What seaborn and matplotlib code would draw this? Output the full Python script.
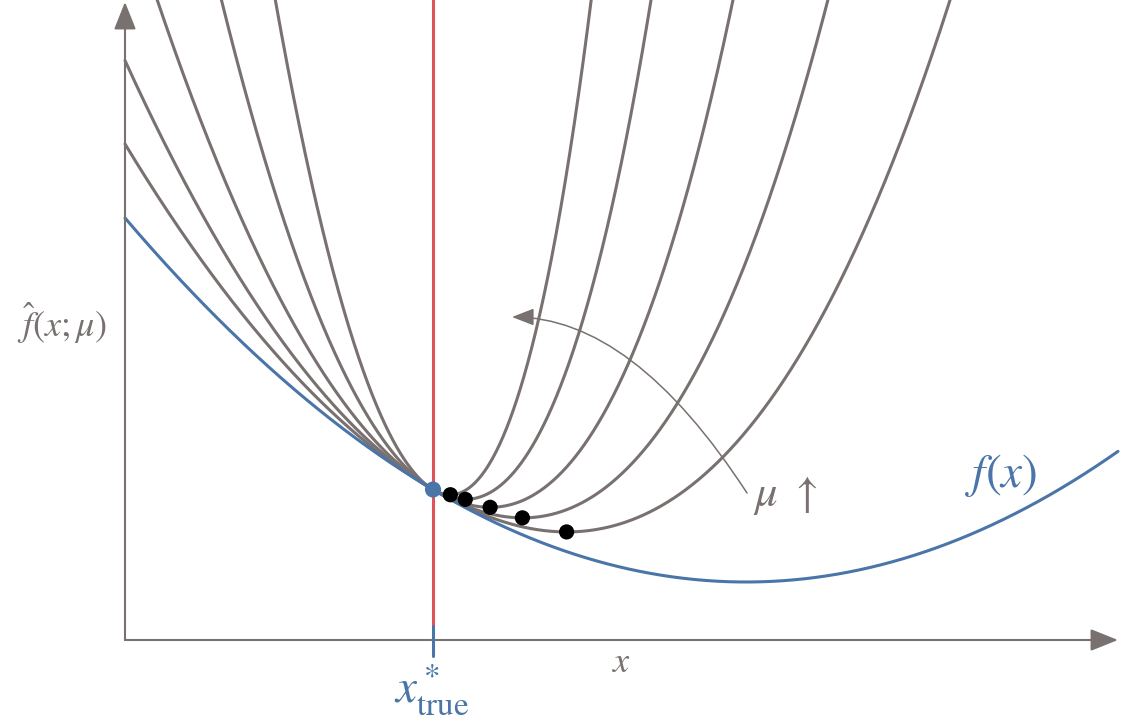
import numpy as np
import pandas as pd
import matplotlib
matplotlib.use('Agg')
import matplotlib.pyplot as plt
import seaborn as sns

# true objective f(x) = a (x - m)^2 + c
f_curv = 0.0944
f_xmin = 6.21
f_ymin = 0.58
x_true = 3.08
x_end = 9.93

# penalty weights of the grey curves (smallest mu first)
mus = [0.078, 0.166, 0.335, 0.72, 1.50]
# extra steepness of the penalty to the right of x_true
skew = 0.31

gray = '#787170'
blue = '#4a75a8'
red = '#de5559'

sns.set_theme(style='white')
plt.rcParams['mathtext.fontset'] = 'stix'
plt.rcParams['font.family'] = ['DejaVu Serif']


def f(x):
    return f_curv * (x - f_xmin) ** 2 + f_ymin


def f_hat(x, mu):
    d = x - x_true
    return f(x) + mu * d ** 2 * (1 + skew * np.clip(d, 0, None))


xs = np.linspace(0, x_end, 2000)
rows = []
for mu in mus:
    rows.append(pd.DataFrame({'x': xs, 'y': f_hat(xs, mu), 'mu': mu}))
curves = pd.concat(rows, ignore_index=True)

# minimiser of each surrogate
mins = curves.loc[curves.groupby('mu')['y'].idxmin()]

fig = plt.figure(figsize=(11.21, 7.28), dpi=100)
ax = fig.add_axes([0, 0, 1, 1])
ax.set_xlim(-1.25, 9.96)
ax.set_ylim(-0.88, 6.40)
ax.axis('off')

sns.lineplot(data=curves, x='x', y='y', units='mu', estimator=None, sort=False,
             color=gray, lw=2.2, ax=ax, zorder=3)
sns.lineplot(x=xs, y=f(xs), color=blue, lw=2.2, ax=ax, zorder=4)

# red line at x_true with blue tick below the axis
ax.plot([x_true, x_true], [0.14, 6.40], color=red, lw=2.2, zorder=2)
ax.plot([x_true, x_true], [-0.16, 0.14], color=blue, lw=2.2, zorder=6)

sns.scatterplot(data=mins, x='x', y='y', color='black', s=120, edgecolor='none', ax=ax, zorder=7)
ax.scatter([x_true], [f(x_true)], color=blue, s=135, edgecolor='none', zorder=8)

# axes with arrows
ax_arrow = dict(arrowstyle='-|>,head_length=1.0,head_width=0.4', mutation_scale=17,
                color=gray, lw=1.5, shrinkA=0, shrinkB=0)
ax.annotate('', xy=(x_end, 0), xytext=(0, 0), arrowprops=ax_arrow, zorder=5)
ax.annotate('', xy=(0, 6.38), xytext=(0, 0), arrowprops=ax_arrow, zorder=5)

# curved arrow showing increasing mu
ax.annotate('', xy=(3.87, 3.23), xytext=(6.22, 1.47),
            arrowprops=dict(arrowstyle='-|>,head_length=0.9,head_width=0.35', mutation_scale=15,
                            color=gray, lw=1.1, shrinkA=0, shrinkB=0,
                            connectionstyle='angle3,angleA=-57,angleB=0'), zorder=5)

ax.text(6.60, 1.45, r'$\mu\ \uparrow$', color=gray, fontsize=32, ha='center', va='center')
ax.text(8.76, 1.65, r'$f(x)$', color=blue, fontsize=34, ha='center', va='center')
ax.text(4.97, -0.22, r'$x$', color=gray, fontsize=26, ha='center', va='center')
ax.text(-0.63, 3.17, r'$\hat{f}(x;\mu)$', color=gray, fontsize=26, ha='center', va='center')
ax.text(3.07, -0.50, r'$x^*_{\mathrm{true}}$', color=blue, fontsize=34, ha='center', va='center')

fig.savefig('out.png', dpi=100)
